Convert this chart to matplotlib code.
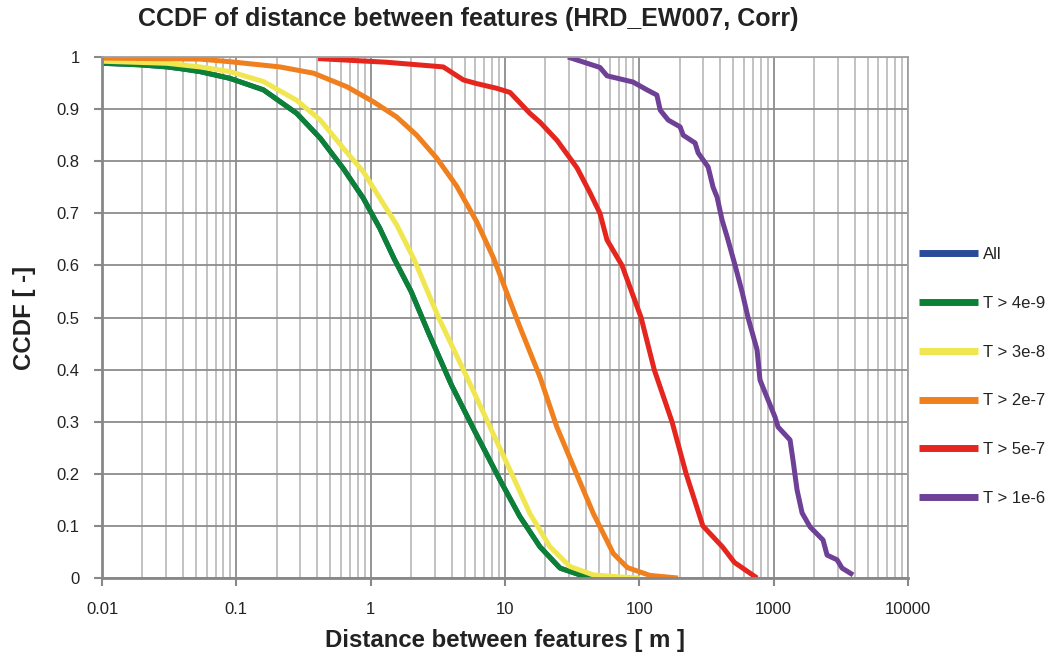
import matplotlib
matplotlib.use('Agg')
import matplotlib.pyplot as plt
from matplotlib.ticker import FixedLocator, LogLocator, NullFormatter

plt.rcParams['font.family'] = ['Liberation Sans', 'DejaVu Sans']

""" Data (read off the reference picture) """

# T > 4e-9 (the 'All' curve sits under it)
green_x = [0.01, 0.0192, 0.0305, 0.0401, 0.0537, 0.0897, 0.159, 0.281, 0.422, 0.625, 0.881, 1.17, 1.50,
           2.0, 2.7, 4.0, 6.0, 9.18, 12.9, 18.2, 25.7, 36.2, 50.9, 53.7]
green_y = [0.988, 0.985, 0.981, 0.977, 0.972, 0.959, 0.937, 0.892, 0.844, 0.786, 0.729, 0.671, 0.612,
           0.55, 0.47, 0.37, 0.28, 0.188, 0.118, 0.060, 0.019, 0.006, 0.001, 0.0]

all_x = green_x
all_y = green_y

# T > 3e-8
yellow_x = [0.01, 0.0305, 0.0537, 0.0897, 0.159, 0.281, 0.422, 0.625, 0.881, 1.17, 1.56, 2.1, 3.2,
            5.19, 7.73, 10.9, 15.3, 21.6, 30.5, 45.4, 71.8, 101]
yellow_y = [0.992, 0.988, 0.981, 0.972, 0.953, 0.917, 0.879, 0.825, 0.780, 0.729, 0.678, 0.612, 0.5,
            0.386, 0.290, 0.207, 0.124, 0.060, 0.022, 0.006, 0.002, 0.0]

# T > 2e-7
orange_x = [0.01, 0.0537, 0.0897, 0.211, 0.375, 0.664, 1.05, 1.56, 2.20, 3.10, 4.37, 6.15, 8.19,
            12.9, 18.2, 24.3, 32.3, 45.4, 64.0, 81.5, 120, 194]
orange_y = [0.998, 0.996, 0.991, 0.981, 0.969, 0.943, 0.914, 0.885, 0.850, 0.806, 0.752, 0.684, 0.615,
            0.482, 0.386, 0.290, 0.214, 0.124, 0.047, 0.020, 0.005, 0.0]

# T > 5e-7
red_x = [0.405, 1.31, 3.47, 4.90, 6.15, 8.67, 10.9, 15.3, 18.2, 24.4, 34.4, 43.0, 50.9, 57.4, 74.3,
         103, 129, 175, 223, 297, 415, 510, 752]
red_y = [0.997, 0.99, 0.981, 0.956, 0.949, 0.94, 0.932, 0.892, 0.875, 0.84, 0.787, 0.739, 0.7, 0.649, 0.6,
         0.5, 0.4, 0.3, 0.2, 0.1, 0.06, 0.03, 0.0]

# T > 1e-6
purple_x = [29.4, 50.9, 57.4, 89.7, 114, 135, 143, 164, 201, 212, 260, 274, 325, 354, 379, 413, 450, 516, 581, 644,
            752, 791, 1023, 1077, 1324, 1393, 1493, 1627, 1866, 2330, 2497, 2963, 3230, 3900]
purple_y = [1.0, 0.98, 0.964, 0.952, 0.937, 0.927, 0.898, 0.879, 0.866, 0.85, 0.835, 0.816, 0.789, 0.75, 0.731, 0.687, 0.655, 0.6, 0.55, 0.5,
            0.438, 0.38, 0.309, 0.29, 0.265, 0.226, 0.169, 0.125, 0.098, 0.073, 0.044, 0.035, 0.019, 0.006]

x_ticks = [0.01, 0.1, 1, 10, 100, 1000, 10000]
x_tick_labels = ['0.01', '0.1', '1', '10', '100', '1000', '10000']
y_ticks = [0, 0.1, 0.2, 0.3, 0.4, 0.5, 0.6, 0.7, 0.8, 0.9, 1]
y_tick_labels = ['0', '0.1', '0.2', '0.3', '0.4', '0.5', '0.6', '0.7', '0.8', '0.9', '1']

series = [
    ('All', all_x, all_y, '#2a4a9a'),
    ('T > 4e-9', green_x, green_y, '#0b8136'),
    ('T > 3e-8', yellow_x, yellow_y, '#f0e650'),
    ('T > 2e-7', orange_x, orange_y, '#f07f1d'),
    ('T > 5e-7', red_x, red_y, '#e5261f'),
    ('T > 1e-6', purple_x, purple_y, '#6e4096'),
]

""" Plot """

fig = plt.figure(figsize=(10.54, 6.6), dpi=100)
ax = fig.add_axes([0.0968, 0.1242, 0.7647, 0.7894])

for label, xs, ys, color in series:
    ax.plot(xs, ys, color=color, lw=3.6, label=label, solid_capstyle='butt', solid_joinstyle='round')

ax.set_xscale('log')
ax.set_xlim(0.01, 10000)
ax.set_ylim(0, 1)

ax.xaxis.set_major_locator(FixedLocator(x_ticks))
ax.set_xticklabels(x_tick_labels)
ax.xaxis.set_minor_locator(LogLocator(base=10, subs=range(2, 10), numticks=20))
ax.xaxis.set_minor_formatter(NullFormatter())
ax.set_yticks(y_ticks)
ax.set_yticklabels(y_tick_labels)

ax.grid(True, which='major', color='#8c8c8c', lw=1.3)
ax.grid(True, which='minor', axis='x', color='#bdbdbd', lw=1.3)
ax.set_axisbelow(True)

for side in ['left', 'bottom']:
    ax.spines[side].set_color('#888888')
    ax.spines[side].set_linewidth(2)
for side in ['top', 'right']:
    ax.spines[side].set_color('#a0a0a0')
    ax.spines[side].set_linewidth(1.3)

ax.tick_params(axis='both', which='major', direction='out', length=6, width=1.5, color='#888888',
               labelsize=12, labelcolor='#222222')
ax.tick_params(axis='x', which='minor', length=0)
ax.tick_params(axis='x', which='major', pad=11)
ax.tick_params(axis='y', which='major', pad=10)

fig.text(0.444, 0.971, 'CCDF of distance between features (HRD_EW007, Corr)', fontsize=18,
         fontweight='bold', color='#222222', ha='center', va='center')
ax.set_xlabel('Distance between features [ m ]', fontsize=17.3, fontweight='bold', color='#222222', labelpad=9)
ax.set_ylabel('CCDF [ -]', fontsize=17.3, fontweight='bold', color='#222222', labelpad=15)

handles, labels = ax.get_legend_handles_labels()
leg = fig.legend(handles, labels, loc='upper left', bbox_to_anchor=(0.866, 0.636), frameon=False,
                 fontsize=12, handlelength=3.5, handletextpad=0.3, labelspacing=2.03, borderaxespad=0)
for line in leg.get_lines():
    line.set_linewidth(5)
for t in leg.get_texts():
    t.set_color('#222222')

plt.savefig('out.png', dpi=100)
